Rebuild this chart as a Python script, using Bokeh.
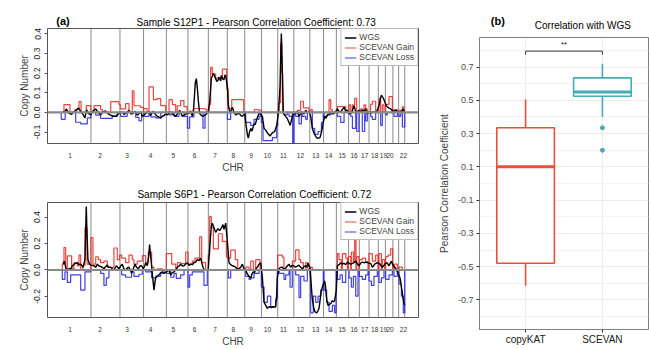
from bokeh.plotting import figure
from bokeh.layouts import row, column
from bokeh.models import (Range1d, FixedTicker, Legend, LegendItem, Span, PrintfTickFormatter)
from bokeh.embed import file_html
from bokeh.resources import INLINE
from bokeh.core.properties import value

FONT = "Liberation Sans"

# ---------------- data: genome (hg19, Mb) ----------------
CHR_LEN = [249.25, 243.20, 198.02, 191.15, 180.92, 171.12, 159.14, 146.36, 141.21, 135.53,
           135.01, 133.85, 115.17, 107.35, 102.53, 90.35, 81.20, 78.08, 59.13, 63.03, 48.13, 51.30]
CHR_TICK_LABELS = ["1", "2", "3", "4", "5", "6", "7", "8", "9", "10", "11", "12", "13", "14",
                   "15", "16", "17", "18", "19", "20", "22"]
CHR_TICK_POS = [73, 325, 551, 750, 940, 1119, 1289, 1444, 1591, 1729, 1863, 2006, 2134, 2243,
                2355, 2456, 2545, 2629, 2702, 2758, 2870]

# ---------------- sample S12P1 ----------------
S12_TITLE = "Sample S12P1 - Pearson Correlation Coefficient: 0.73"
S12_WGS_X = [15, 37, 42, 65, 87, 107, 126, 143, 157, 182, 199, 213, 227, 247,
             262, 289, 310, 330, 352, 372, 400, 428, 456, 484,
             512, 526, 540, 568, 585, 602, 620, 638, 666, 680,
             708, 730, 750, 770, 790, 806, 834, 850, 862, 875,
             890, 918, 940, 960, 993, 1005, 1016, 1044,
             1071, 1085, 1099, 1110, 1116, 1124, 1133, 1142, 1150, 1161, 1183, 1211, 1233,
             1245, 1259, 1276, 1285, 1295, 1305, 1315, 1322, 1329, 1337, 1345, 1355, 1365, 1372, 1379, 1393, 1401, 1415,
             1435, 1449, 1463, 1491, 1505, 1519, 1539,
             1547, 1561, 1569, 1579, 1589, 1600, 1617, 1628, 1639, 1659, 1675,
             1687, 1701, 1715, 1729, 1740, 1751, 1762, 1771, 1790, 1807, 1815,
             1821, 1835, 1841, 1846, 1851, 1857, 1863, 1882, 1895, 1910, 1920, 1938, 1950,
             1966, 1980, 1994, 2008, 2022, 2036, 2050, 2064, 2078,
             2092, 2106, 2116, 2126, 2137, 2148, 2160, 2170, 2184, 2198,
             2209, 2220, 2232, 2246, 2260, 2274, 2288, 2300,
             2316, 2330, 2344, 2358, 2372, 2386, 2400,
             2414, 2428, 2442, 2456, 2465, 2475, 2487, 2497,
             2511, 2525, 2539, 2553, 2563, 2573,
             2585, 2595, 2609, 2623, 2637, 2651,
             2668, 2677, 2685, 2693, 2702, 2716,
             2725, 2735, 2749, 2763, 2775,
             2791, 2805, 2819,
             2835, 2847, 2860, 2869, 2881]
S12_WGS_Y = [0.003, 0.008, 0.018, -0.005, -0.009, 0.003, 0.011, 0.023, 0.011, -0.01, -0.028, 0.014, -0.005, -0.012,
             0.005, 0.018, 0.0, -0.012, 0.004, 0.008, -0.01, -0.017, -0.02, -0.005,
             0.003, -0.01, -0.005, 0.011, -0.008, -0.005, 0.006, -0.014, 0.003, -0.02,
             -0.005, 0.004, -0.015, 0.006, -0.01, -0.02, -0.028, -0.018, -0.017, -0.008,
             -0.012, 0.003, -0.01, -0.02, 0.011, -0.005, -0.02, -0.008,
             -0.005, 0.008, -0.02, 0.02, 0.072, 0.15, 0.172, 0.12, 0.057, -0.005, -0.02, -0.012, 0.003,
             0.057, 0.172, 0.2, 0.185, 0.172, 0.158, 0.164, 0.18, 0.172, 0.16, 0.187, 0.17, 0.167, 0.19, 0.187, 0.134, 0.041, -0.005,
             0.026, 0.0, -0.012, -0.003, -0.015, -0.02, -0.005,
             -0.051, -0.112, -0.131, -0.1, -0.081, -0.095, -0.058, -0.06, -0.035, -0.005, -0.01,
             -0.02, -0.081, -0.09, -0.104, -0.112, -0.12, -0.11, -0.104, -0.097, -0.066, -0.03,
             -0.005, 0.134, 0.3, 0.402, 0.3, 0.134, -0.005, -0.02, -0.03, -0.051, -0.066, -0.02, -0.01,
             -0.005, 0.005, -0.02, -0.005, 0.003, -0.008, 0.011, 0.0, 0.003,
             -0.02, -0.081, -0.1, -0.112, -0.125, -0.131, -0.13, -0.128, -0.097, -0.051,
             -0.02, -0.03, -0.012, -0.01, 0.003, -0.008, -0.005, 0.003,
             0.018, 0.005, 0.003, 0.015, 0.026, 0.008, 0.011,
             -0.008, -0.005, 0.01, 0.034, 0.015, -0.005, 0.005, 0.011,
             0.002, 0.011, 0.008, 0.018, -0.005, -0.005,
             0.004, -0.005, 0.002, 0.003, 0.0, 0.011,
             0.041, 0.07, 0.088, 0.08, 0.072, 0.049,
             0.035, 0.029, 0.022, 0.018, 0.01,
             0.005, 0.011, 0.004,
             0.0, 0.003, 0.01, 0.018, -0.005]
# (start Mb, end Mb, value)
S12_GAIN = [(23, 73, 0.04), (115, 149, 0.015), (149, 166, 0.055), (210, 249, 0.035),
            (275, 330, 0.035), (330, 345, 0.015), (415, 484, 0.055), (484, 495, 0.04),
            (495, 540, 0.018), (540, 568, 0.045), (596, 610, 0.11), (610, 666, 0.034), (666, 690, 0.026),
            (692, 720, 0.02), (736, 773, 0.13), (773, 801, 0.065), (801, 834, 0.07), (834, 876, 0.035),
            (904, 932, 0.065), (932, 960, 0.04), (973, 1001, 0.034), (1001, 1029, 0.06), (1029, 1057, 0.03),
            (1113, 1197, 0.02), (1197, 1220, 0.017),
            (1240, 1253, 0.04), (1253, 1267, 0.23), (1267, 1295, 0.195), (1295, 1337, 0.175),
            (1337, 1351, 0.185), (1351, 1388, 0.22), (1388, 1400, 0.12),
            (1400, 1430, 0.02), (1430, 1530, 0.065),
            (1620, 1650, 0.015), (1650, 1680, 0.012),
            (1826, 1840, 0.05), (1840, 1849, 0.35), (1849, 1857, 0.2),
            (1980, 2008, 0.01), (2008, 2031, 0.057), (2031, 2078, 0.023),
            (2092, 2106, 0.014),
            (2246, 2260, 0.065), (2260, 2274, 0.014),
            (2316, 2386, 0.03),
            (2414, 2428, 0.038), (2442, 2461, 0.038), (2461, 2478, 0.072),
            (2511, 2525, 0.018), (2539, 2553, 0.038), (2553, 2567, 0.018),
            (2595, 2609, 0.041), (2609, 2637, 0.057),
            (2665, 2679, 0.072), (2693, 2707, 0.038),
            (2721, 2749, 0.041), (2749, 2777, 0.08),
            (2791, 2819, 0.014),
            (2833, 2853, 0.011), (2861, 2875, 0.029)]
S12_LOSS = [(0, 33, -0.035), (121, 163, -0.05), (163, 219, -0.058), (219, 249, -0.028),
            (289, 330, -0.014), (330, 428, -0.03), (428, 470, -0.02),
            (498, 554, -0.02), (624, 652, -0.025), (652, 674, -0.043),
            (694, 736, -0.02), (750, 792, -0.023), (792, 834, -0.028),
            (904, 932, -0.012), (946, 988, -0.02),
            (1030, 1058, -0.02), (1058, 1077, -0.08), (1077, 1113, -0.023), (1189, 1206, -0.08),
            (1393, 1421, -0.035),
            (1547, 1589, -0.051), (1589, 1617, -0.066), (1617, 1659, -0.035), (1659, 1673, -0.02),
            (1678, 1692, -0.051), (1692, 1771, -0.143), (1771, 1807, -0.128), (1807, 1815, -0.066),
            (1868, 1896, -0.012), (1910, 1938, -0.02), (1941, 1952, -0.16),
            (1966, 1994, -0.02), (1994, 2014, -0.058), (2022, 2050, -0.02), (2050, 2064, -0.035),
            (2106, 2126, -0.081), (2126, 2154, -0.112), (2154, 2182, -0.097), (2182, 2198, -0.051),
            (2204, 2232, -0.02), (2232, 2260, -0.012),
            (2316, 2344, -0.02), (2344, 2372, -0.051),
            (2428, 2442, -0.02), (2442, 2470, -0.081), (2478, 2497, -0.097),
            (2525, 2545, -0.097), (2553, 2567, -0.043),
            (2595, 2609, -0.02), (2609, 2637, -0.035),
            (2679, 2693, -0.066),
            (2721, 2735, -0.012),
            (2791, 2819, -0.02),
            (2833, 2847, -0.02), (2861, 2881, -0.074)]
S12_Y_RANGE = (-0.158, 0.427)
S12_Y_TICKS = [-0.1, 0.0, 0.1, 0.2, 0.3, 0.4]

# ---------------- sample S6P1 ----------------
S6_TITLE = "Sample S6P1 - Pearson Correlation Coefficient: 0.72"
S6_WGS_X = [15, 26, 37, 51, 65, 79, 93, 107, 121, 135, 149, 163, 182, 199, 205, 210, 215, 224, 238, 249,
            275, 289, 303, 316, 330, 344, 358, 372, 386, 400, 414, 428, 442, 462, 484,
            498, 512, 526, 540, 554, 568, 580, 590, 604, 618, 632, 646, 660, 674, 688,
            700, 708, 722, 733, 741, 750, 758, 766, 778, 785, 792, 806, 820, 834, 848, 862, 881,
            904, 918, 932, 946, 960, 974, 988, 1002, 1016, 1030, 1044, 1058,
            1071, 1085, 1099, 1113, 1127, 1141, 1155, 1169, 1180, 1189, 1200, 1211, 1222, 1233,
            1245, 1259, 1267, 1281, 1295, 1305, 1315, 1329, 1345, 1356, 1365, 1372, 1379, 1393, 1407,
            1421, 1435, 1449, 1463,
            1477, 1491, 1505, 1519, 1533,
            1547, 1561, 1575, 1589, 1600, 1611, 1621, 1631, 1645, 1659, 1673,
            1687, 1701, 1715, 1729, 1740, 1751, 1762, 1771, 1785, 1798, 1806, 1812,
            1826, 1840, 1854, 1868, 1882, 1896, 1910, 1924, 1936, 1947,
            1966, 1980, 1994, 2008, 2022, 2036, 2050, 2060, 2070, 2084,
            2092, 2106, 2116, 2126, 2134, 2142, 2152, 2162, 2172, 2182, 2198,
            2209, 2216, 2223, 2230, 2237, 2248, 2260, 2274, 2284, 2293, 2307,
            2316, 2330, 2344, 2358, 2372, 2386, 2400,
            2414, 2428, 2442, 2456, 2470, 2484, 2497,
            2511, 2525, 2539, 2553, 2567, 2578,
            2595, 2609, 2619, 2629, 2640, 2651,
            2674, 2684, 2693, 2703, 2713,
            2730, 2740, 2749, 2759, 2769, 2780,
            2797, 2810, 2819,
            2841, 2847, 2853, 2859, 2864, 2870, 2875, 2881]
S6_WGS_Y = [0.044, 0.067, 0.021, -0.002, 0.01, 0.009, 0.03, 0.044, 0.05, 0.055, 0.04, 0.044, 0.021, 0.078, 0.3, 0.48, 0.3, 0.078, 0.044, 0.037,
            0.032, 0.02, 0.044, 0.03, 0.028, 0.02, 0.009, 0.025, 0.037, 0.02, 0.021, 0.01, -0.002, 0.032, 0.009,
            0.03, 0.044, 0.01, -0.002, 0.015, 0.021, 0.0, -0.025, 0.01, 0.044, 0.02, 0.009, 0.03, 0.032, 0.01,
            0.03, 0.055, 0.032, 0.1, 0.193, 0.1, 0.032, -0.05, -0.152, -0.1, -0.06, -0.045, -0.037, -0.02, -0.014, -0.025, -0.014,
            -0.002, -0.037, -0.02, -0.014, 0.0, 0.021, 0.03, 0.044, 0.03, 0.032, 0.045, 0.055,
            0.035, 0.044, 0.04, 0.055, 0.06, 0.078, 0.07, 0.09, 0.05, 0.021, 0.0, -0.002, 0.0, 0.005,
            0.17, 0.331, 0.354, 0.32, 0.285, 0.3, 0.313, 0.297, 0.32, 0.343, 0.308, 0.33, 0.354, 0.216, 0.055,
            0.04, 0.032, 0.028, 0.021,
            0.005, 0.01, 0.02, 0.044, 0.009,
            -0.002, -0.03, -0.048, -0.06, -0.03, -0.014, -0.02, 0.009, 0.02, 0.044, 0.055,
            -0.06, -0.244, -0.267, -0.29, -0.28, -0.278, -0.285, -0.278, -0.28, -0.278, -0.2, -0.06,
            0.009, 0.02, 0.021, 0.005, 0.014, 0.03, 0.044, 0.021, 0.035, 0.032,
            0.021, 0.03, 0.037, 0.02, 0.009, 0.025, 0.032, 0.02, 0.051, 0.021,
            -0.06, -0.221, -0.28, -0.313, -0.32, -0.324, -0.31, -0.29, -0.22, -0.152, -0.106,
            -0.083, -0.12, -0.198, -0.24, -0.267, -0.26, -0.255, -0.232, -0.24, -0.232, -0.152,
            0.032, 0.04, 0.055, 0.045, 0.051, 0.04, 0.06,
            0.05, 0.044, 0.05, 0.055, 0.067, 0.045, 0.032,
            0.051, 0.06, 0.055, 0.058, 0.06, 0.05,
            0.051, 0.021, 0.03, 0.044, 0.05, 0.055,
            0.044, 0.03, 0.021, 0.03, 0.044,
            0.055, 0.045, 0.032, 0.05, 0.067, 0.04,
            0.021, 0.005, -0.014,
            -0.06, -0.09, -0.129, -0.16, -0.198, -0.23, -0.255, -0.267]
S6_GAIN = [(9, 23, 0.044), (23, 37, 0.17), (37, 51, 0.005), (51, 87, 0.106), (87, 107, 0.01),
           (107, 135, 0.055), (135, 149, 0.03), (149, 163, 0.113), (163, 182, 0.005), (182, 199, 0.032),
           (199, 216, 0.32), (216, 247, 0.044),
           (249, 266, 0.244), (266, 289, 0.044), (289, 311, 0.1), (311, 330, 0.078), (330, 358, 0.055),
           (358, 386, 0.067), (386, 442, 0.02), (442, 470, 0.166), (470, 490, 0.078),
           (490, 507, 0.113), (507, 540, 0.09), (540, 568, 0.055), (568, 596, 0.113), (596, 610, 0.078),
           (610, 638, 0.044), (638, 680, 0.067),
           (680, 708, 0.108), (708, 730, 0.055), (730, 758, 0.136), (758, 778, 0.021), (806, 848, 0.009),
           (881, 926, 0.124), (926, 960, 0.044), (974, 1002, 0.055), (1002, 1044, 0.048), (1044, 1063, 0.136),
           (1063, 1099, 0.044), (1099, 1122, 0.067), (1122, 1161, 0.09), (1161, 1178, 0.251), (1178, 1211, 0.055),
           (1233, 1245, 0.113), (1245, 1259, 0.405), (1259, 1276, 0.32), (1276, 1318, 0.159),
           (1318, 1351, 0.274), (1351, 1385, 0.216), (1385, 1393, 0.1),
           (1393, 1421, 0.09), (1421, 1460, 0.15), (1460, 1480, 0.078),
           (1547, 1575, 0.021), (1589, 1611, 0.067), (1631, 1667, 0.078),
           (1815, 1854, 0.113), (1854, 1868, 0.097),
           (1938, 1966, 0.067), (1966, 1994, 0.152), (1994, 2008, 0.078), (2008, 2031, 0.055), (2050, 2070, 0.055),
           (2092, 2106, 0.021),
           (2316, 2330, 0.124), (2330, 2349, 0.078), (2358, 2386, 0.124), (2386, 2400, 0.09),
           (2408, 2428, 0.101), (2433, 2450, 0.136), (2450, 2461, 0.06), (2461, 2472, 0.285), (2478, 2497, 0.101),
           (2500, 2525, 0.078), (2525, 2553, 0.09), (2553, 2573, 0.055),
           (2581, 2609, 0.124), (2609, 2637, 0.067), (2637, 2657, 0.113),
           (2665, 2685, 0.124), (2693, 2713, 0.078),
           (2721, 2741, 0.101), (2741, 2763, 0.113), (2763, 2780, 0.16),
           (2791, 2819, 0.044),
           (2833, 2861, 0.021)]
S6_LOSS = [(9, 31, -0.071), (31, 51, -0.014), (51, 79, -0.094), (79, 163, -0.037), (163, 199, -0.152), (199, 247, -0.014),
           (330, 358, -0.025), (358, 378, -0.117), (378, 400, -0.06),
           (507, 540, -0.037), (540, 590, -0.055), (590, 610, -0.014), (610, 652, -0.048), (652, 680, -0.032),
           (708, 750, -0.014), (758, 792, -0.06), (792, 834, -0.048), (834, 862, -0.025),
           (881, 909, -0.025), (918, 946, -0.055), (946, 965, -0.025), (965, 1002, -0.064), (1002, 1030, -0.037),
           (1063, 1077, -0.129), (1077, 1099, -0.037), (1099, 1197, -0.014), (1197, 1225, -0.117),
           (1401, 1421, -0.06),
           (1547, 1575, -0.048), (1575, 1589, -0.071), (1589, 1617, -0.06), (1617, 1659, -0.025),
           (1678, 1701, -0.129), (1701, 1729, -0.244), (1729, 1757, -0.198), (1757, 1798, -0.278), (1798, 1812, -0.221),
           (1826, 1868, -0.025), (1868, 1882, -0.071), (1882, 1910, -0.037), (1919, 1938, -0.129),
           (1966, 1994, -0.037), (1994, 2008, -0.209), (2008, 2036, -0.048), (2036, 2064, -0.083),
           (2092, 2114, -0.324), (2114, 2134, -0.198), (2134, 2154, -0.244), (2154, 2176, -0.198), (2176, 2198, -0.152),
           (2204, 2226, -0.152), (2226, 2246, -0.244), (2246, 2274, -0.313), (2274, 2293, -0.267), (2293, 2305, -0.324),
           (2316, 2338, -0.071), (2338, 2358, -0.037), (2358, 2386, -0.094),
           (2414, 2433, -0.06), (2433, 2450, -0.129), (2450, 2470, -0.048), (2470, 2489, -0.198),
           (2500, 2525, -0.048), (2525, 2553, -0.071), (2553, 2573, -0.037),
           (2581, 2601, -0.083), (2601, 2623, -0.117), (2623, 2651, -0.048),
           (2665, 2685, -0.094), (2685, 2707, -0.06),
           (2721, 2749, -0.071), (2749, 2777, -0.037),
           (2791, 2819, -0.048),
           (2833, 2853, -0.106), (2853, 2869, -0.198), (2869, 2881, -0.324)]
S6_Y_RANGE = (-0.359, 0.51)
S6_Y_TICKS = [-0.2, 0.0, 0.2, 0.4]

# ---------------- box plot (b) ----------------
BOX_TITLE = "Correlation with WGS"
BOX_GROUPS = ["copyKAT", "SCEVAN"]
BOX_Q1 = [-0.48, 0.525]
BOX_MED = [0.10, 0.55]
BOX_Q3 = [0.335, 0.635]
BOX_LOW = [-0.615, 0.40]
BOX_HIGH = [0.505, 0.72]
OUTLIER_GROUP = [2, 2]
OUTLIER_VAL = [0.335, 0.20]
BOX_Y_TICKS = [-0.7, -0.5, -0.3, -0.1, 0.1, 0.3, 0.5, 0.7]
BOX_Y_MINOR = [-0.8, -0.6, -0.4, -0.2, 0.0, 0.2, 0.4, 0.6, 0.8]
SIG_LABEL = "**"
SIG_Y = [0.775, 0.796]

RED = "#E3261E"
BLUE = "#1F1FE0"
BOX_COLORS = ["#E8503A", "#45ACB5"]


def step_path(segments, x_end):
    xs, ys = [0.0], [0.0]
    cx = 0.0
    for s, e, v in segments:
        s = max(s, cx)
        if s > cx + 1e-9:
            xs += [cx, s]
            ys += [0.0, 0.0]
        xs += [s, e]
        ys += [v, v]
        cx = e
    xs += [cx, x_end]
    ys += [0.0, 0.0]
    return xs, ys


GENOME = sum(CHR_LEN)
X_LO, X_HI = -0.04 * GENOME, GENOME * 1.04
CHR_ENDS = []
acc = 0.0
for L in CHR_LEN:
    acc += L
    CHR_ENDS.append(acc)


def strip(width, height):
    """A bare header strip whose data units are pixels; holds tags and titles."""
    s = figure(width=width, height=height, x_range=Range1d(0, width), y_range=Range1d(0, height),
               output_backend="svg", toolbar_location=None, min_border=0)
    s.axis.visible = False
    s.grid.visible = False
    s.outline_line_color = None
    return s


def header_text(s, x, y, text, size, bold=False, align="left"):
    s.text(x=[x], y=[y], text=[text], text_font=value(FONT), text_font_size=size,
           text_font_style="bold" if bold else "normal", text_align=align,
           text_baseline="middle", text_color="black")


def cnv_panel(wx, wy, gain, loss, yr, yticks, height, b_top, b_bottom):
    p = figure(width=425, height=height, x_range=Range1d(X_LO, X_HI),
               y_range=Range1d(*yr), output_backend="svg", toolbar_location=None,
               min_border_left=47, min_border_right=7, min_border_top=b_top,
               min_border_bottom=b_bottom)
    p.outline_line_color = "#555555"
    p.outline_line_width = 1
    p.xgrid.visible = False
    p.ygrid.visible = False

    for e in CHR_ENDS:
        p.add_layout(Span(location=e, dimension="height", line_color="#8a8a8a",
                          line_width=1, level="underlay"))

    gx, gy = step_path(gain, GENOME)
    lx, ly = step_path(loss, GENOME)
    rg = p.line(gx, gy, line_color=RED, line_alpha=0.85, line_width=1.2)
    rl = p.line(lx, ly, line_color=BLUE, line_alpha=0.85, line_width=1.2)
    p.add_layout(Span(location=0, dimension="width", line_color="#8a8a8a", line_width=2.2))
    rw = p.line(wx, wy, line_color="black", line_width=1.4)

    leg = Legend(items=[LegendItem(label="WGS", renderers=[rw]),
                        LegendItem(label="SCEVAN Gain", renderers=[rg]),
                        LegendItem(label="SCEVAN Loss", renderers=[rl])],
                 location="top_right", margin=0, padding=3, spacing=0,
                 glyph_width=12, glyph_height=9, label_height=9, label_standoff=3,
                 label_text_font=FONT, label_text_font_size="8.5px",
                 border_line_color="#777777", border_line_width=1,
                 background_fill_alpha=1.0)
    p.add_layout(leg)

    xa = p.xaxis[0]
    xa.ticker = FixedTicker(ticks=CHR_TICK_POS)
    xa.major_label_overrides = {t: l for t, l in zip(CHR_TICK_POS, CHR_TICK_LABELS)}
    xa.major_tick_line_color = None
    xa.minor_tick_line_color = None
    xa.axis_line_color = None
    xa.major_label_standoff = 3
    xa.major_label_text_font = FONT
    xa.major_label_text_font_size = "6.5px"
    xa.major_label_text_color = "#333333"
    xa.axis_label = "CHR"
    xa.axis_label_text_font = FONT
    xa.axis_label_text_font_size = "10px"
    xa.axis_label_text_font_style = "normal"
    xa.axis_label_standoff = 1

    ya = p.yaxis[0]
    ya.ticker = FixedTicker(ticks=yticks)
    ya.formatter = PrintfTickFormatter(format="%.1f")
    ya.major_label_orientation = "parallel"
    ya.major_label_text_font = FONT
    ya.major_label_text_font_size = "8.5px"
    ya.major_label_text_color = "#222222"
    ya.major_tick_out = 3
    ya.major_tick_in = 0
    ya.major_tick_line_color = "#555555"
    ya.minor_tick_line_color = None
    ya.axis_line_color = None
    ya.major_label_standoff = 4
    ya.axis_label = "Copy Number"
    ya.axis_label_text_font = FONT
    ya.axis_label_text_font_size = "10px"
    ya.axis_label_text_font_style = "normal"
    ya.axis_label_standoff = 2
    return p


# header strips (titles / panel tags)
head_a = strip(425, 27)
header_text(head_a, 10, 7, "(a)", "11px", bold=True)
header_text(head_a, 102, 5, S12_TITLE, "10px")
top = cnv_panel(S12_WGS_X, S12_WGS_Y, S12_GAIN, S12_LOSS, S12_Y_RANGE, S12_Y_TICKS, 148, 1, 20)

head_a2 = strip(425, 26)
header_text(head_a2, 103, 7, S6_TITLE, "10px")
bottom = cnv_panel(S6_WGS_X, S6_WGS_Y, S6_GAIN, S6_LOSS, S6_Y_RANGE, S6_Y_TICKS, 148, 1, 21)

# ---------------- panel (b) ----------------
head_b = strip(224, 36)
header_text(head_b, 15, 16, "(b)", "11px", bold=True)
header_text(head_b, 137, 11, BOX_TITLE, "10px", align="center")

QY = (-0.878, 0.878)
QX = (0.4, 2.6)
q = figure(width=224, height=313, x_range=Range1d(*QX), y_range=Range1d(*QY),
           output_backend="svg", toolbar_location=None, min_border_left=54,
           min_border_right=1, min_border_top=1, min_border_bottom=20)
q.outline_line_color = "#7f7f7f"
q.background_fill_color = "white"

pos = [1, 2]
qa_x = q.xaxis[0]
qa_x.ticker = FixedTicker(ticks=pos)
qa_x.major_label_overrides = {1: BOX_GROUPS[0], 2: BOX_GROUPS[1]}
qa_x.major_label_text_font = FONT
qa_x.major_label_text_font_size = "10px"
qa_x.major_label_text_color = "#1a1a1a"
qa_x.major_tick_out = 3
qa_x.major_tick_in = 0
qa_x.major_tick_line_color = "#333333"
qa_x.minor_tick_line_color = None
qa_x.axis_line_color = None
qa_x.major_label_standoff = 1

qa_y = q.yaxis[0]
qa_y.ticker = FixedTicker(ticks=BOX_Y_TICKS, minor_ticks=BOX_Y_MINOR)
qa_y.formatter = PrintfTickFormatter(format="%.1f")
qa_y.major_label_text_font = FONT
qa_y.major_label_text_font_size = "9px"
qa_y.major_label_text_color = "#4d4d4d"
qa_y.major_tick_out = 3
qa_y.major_tick_in = 0
qa_y.major_tick_line_color = "#333333"
qa_y.minor_tick_line_color = None
qa_y.axis_line_color = None
qa_y.major_label_standoff = 2
qa_y.axis_label = "Pearson Correlation Coefficient"
qa_y.axis_label_text_font = FONT
qa_y.axis_label_text_font_size = "10px"
qa_y.axis_label_text_font_style = "normal"
qa_y.axis_label_standoff = 5

q.xgrid.grid_line_color = "#EBEBEB"
q.ygrid.grid_line_color = "#EBEBEB"
q.ygrid.minor_grid_line_color = "#F3F3F3"

half = 0.375
q.segment(x0=pos, y0=BOX_Q3, x1=pos, y1=BOX_HIGH, line_color=BOX_COLORS, line_width=1.6)
q.segment(x0=pos, y0=BOX_LOW, x1=pos, y1=BOX_Q1, line_color=BOX_COLORS, line_width=1.6)
q.quad(left=[x - half for x in pos], right=[x + half for x in pos], bottom=BOX_Q1, top=BOX_Q3,
       fill_color="white", line_color=BOX_COLORS, line_width=1.6)
q.segment(x0=[x - half for x in pos], y0=BOX_MED, x1=[x + half for x in pos], y1=BOX_MED,
          line_color=BOX_COLORS, line_width=3)
q.scatter(x=OUTLIER_GROUP, y=OUTLIER_VAL, size=4, color=BOX_COLORS[1])

# significance bracket
q.line(x=[pos[0], pos[0], pos[1], pos[1]], y=[SIG_Y[0], SIG_Y[1], SIG_Y[1], SIG_Y[0]],
       line_color="#333333", line_width=1)
q.text(x=[(pos[0] + pos[1]) / 2], y=[SIG_Y[1] + 0.01], text=[SIG_LABEL], text_font=value(FONT),
       text_font_size="8px", text_align="center", text_baseline="bottom", text_color="#222222")

layout = row(column(head_a, top, head_a2, bottom), column(head_b, q))
open("out.html", "w").write(file_html(layout, INLINE))
